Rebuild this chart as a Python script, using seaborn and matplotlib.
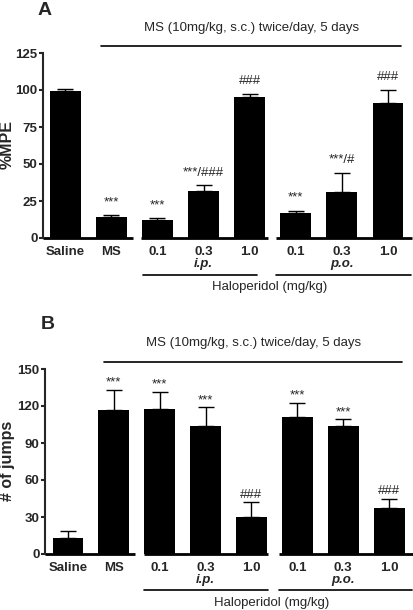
import numpy as np
import pandas as pd
import matplotlib
matplotlib.use("Agg")
import matplotlib.pyplot as plt
import matplotlib.transforms as mtransforms
import seaborn as sns

# ---------------- data ----------------
group_keys = ["Saline", "MS", "ip0.1", "ip0.3", "ip1.0", "po0.1", "po0.3", "po1.0"]
tick_labels = ["Saline", "MS", "0.1", "0.3", "1.0", "0.1", "0.3", "1.0"]
route_labels = ["i.p.", "p.o."]

mpe_mean = [99.5, 14.0, 12.2, 31.5, 95.5, 16.7, 31.3, 91.0]
mpe_sem = [0.9, 1.5, 1.5, 4.1, 2.0, 1.8, 12.8, 9.0]
mpe_sig = ["", "***", "***", "***/###", "###", "***", "***/#", "###"]

jumps_mean = [13.2, 116.8, 117.6, 103.5, 30.3, 111.0, 103.5, 37.3]
jumps_sem = [5.7, 16.2, 14.0, 15.5, 11.6, 11.7, 5.7, 7.6]
jumps_sig = ["", "***", "***", "***", "###", "***", "***", "###"]

mpe_ticks = [0, 25, 50, 75, 100, 125]
jumps_ticks = [0, 30, 60, 90, 120, 150]

title_text = "MS (10mg/kg, s.c.) twice/day, 5 days"
xlabel_text = "Haloperidol (mg/kg)"

# ---------------- style ----------------
sns.set_style("ticks")
plt.rcParams["font.family"] = ["Liberation Sans", "DejaVu Sans"]

W, H = 414, 610
fig = plt.figure(figsize=(W / 100, H / 100), dpi=100)


def px_ax(left, top, right, bottom):
    return fig.add_axes([left / W, 1 - bottom / H, (right - left) / W, (bottom - top) / H])


def draw_panel(ax, means, sems, sigs, yticks, ylabel, letter, letter_xy,
               xlim, segs, route_lines, y_px, sig_offset):
    df = pd.DataFrame({"key": group_keys, "mean": means})
    sns.barplot(data=df, x="key", y="mean", order=group_keys, color="black",
                saturation=1, width=0.67, errorbar=None, linewidth=0, ax=ax)
    x = np.arange(len(group_keys))
    ax.errorbar(x, means, yerr=[np.zeros(len(means)), sems], fmt="none",
                ecolor="black", elinewidth=1.0, capsize=5.5, capthick=1.0, zorder=3)
    ax.set_xlim(*xlim)
    ax.set_ylim(yticks[0], yticks[-1])
    ax.set_yticks(yticks)
    ax.set_yticklabels([str(t) for t in yticks], fontsize=9.5, fontweight="bold")
    ax.set_xticks(x)
    ax.set_xticklabels(tick_labels, fontsize=9.5, fontweight="bold")
    ax.tick_params(axis="x", length=0, pad=6)
    ax.tick_params(axis="y", direction="out", length=3, width=1.5, pad=1)
    ax.set_xlabel("")
    ax.set_ylabel("")
    for s in ["top", "right", "bottom"]:
        ax.spines[s].set_visible(False)
    ax.spines["left"].set_linewidth(1.5)
    ax.spines["left"].set_bounds(yticks[0], yticks[-1])

    trans_ax = mtransforms.blended_transform_factory(ax.transData, ax.transAxes)
    trans_fig = mtransforms.blended_transform_factory(ax.transData, fig.transFigure)
    for a, b in segs:
        ax.plot([a, b], [0, 0], transform=trans_ax, color="black", lw=2,
                solid_capstyle="butt", clip_on=False)

    # significance marks
    for xi, m, e, s in zip(x, means, sems, sigs):
        if s:
            ax.annotate(s, (xi, m + e), xytext=(0, sig_offset), textcoords="offset points",
                        ha="center", va="baseline", fontsize=9.5)

    # top treatment line + title
    ax.plot([0.78, 7.29], [1 - y_px["line"] / H] * 2, transform=trans_fig, color="black",
            lw=1.2, clip_on=False)
    ax.text(4.05, 1 - y_px["title"] / H, title_text, transform=trans_fig, ha="center",
            va="center", fontsize=9.5)

    # route labels and lines under axis
    for xi, lab in zip([3, 6], route_labels):
        ax.text(xi, 1 - y_px["route"] / H, lab, transform=trans_fig, ha="center",
                va="center", fontsize=9.5, fontweight="bold", style="italic")
    for a, b in route_lines:
        ax.plot([a, b], [1 - y_px["rline"] / H] * 2, transform=trans_fig, color="black",
                lw=1.2, clip_on=False)
    ax.text(4.43, 1 - y_px["xlabel"] / H, xlabel_text, transform=trans_fig, ha="center",
            va="center", fontsize=9.5)
    fig.text(letter_xy[0] / W, 1 - letter_xy[1] / H, letter, ha="center", va="center",
             fontsize=14, fontweight="bold")
    fig.text(7.5 / W, 1 - y_px["ylabel"] / H, ylabel, ha="center", va="center",
             rotation=90, fontsize=11.5, fontweight="bold")


axA = px_ax(43, 53, 412, 238)
axB = px_ax(45, 369, 413, 554)

draw_panel(axA, mpe_mean, mpe_sem, mpe_sig, mpe_ticks, "%MPE", "A", (44.5, 10.5),
           (-0.48, 7.52), [(-0.48, 1.47), (1.65, 4.40), (4.57, 7.52)],
           [(1.69, 4.16), (4.57, 7.50)],
           {"line": 46, "title": 28, "route": 264, "rline": 275, "xlabel": 287,
            "ylabel": 145}, 7)
draw_panel(axB, jumps_mean, jumps_sem, jumps_sig, jumps_ticks, "# of jumps", "B", (48, 324.5),
           (-0.5, 7.52), [(-0.5, 1.46), (1.65, 4.37), (4.59, 7.52)],
           [(1.65, 4.37), (4.59, 7.50)],
           {"line": 362, "title": 343, "route": 580, "rline": 590, "xlabel": 603,
            "ylabel": 461}, 3)

fig.savefig("out.png", dpi=100)
